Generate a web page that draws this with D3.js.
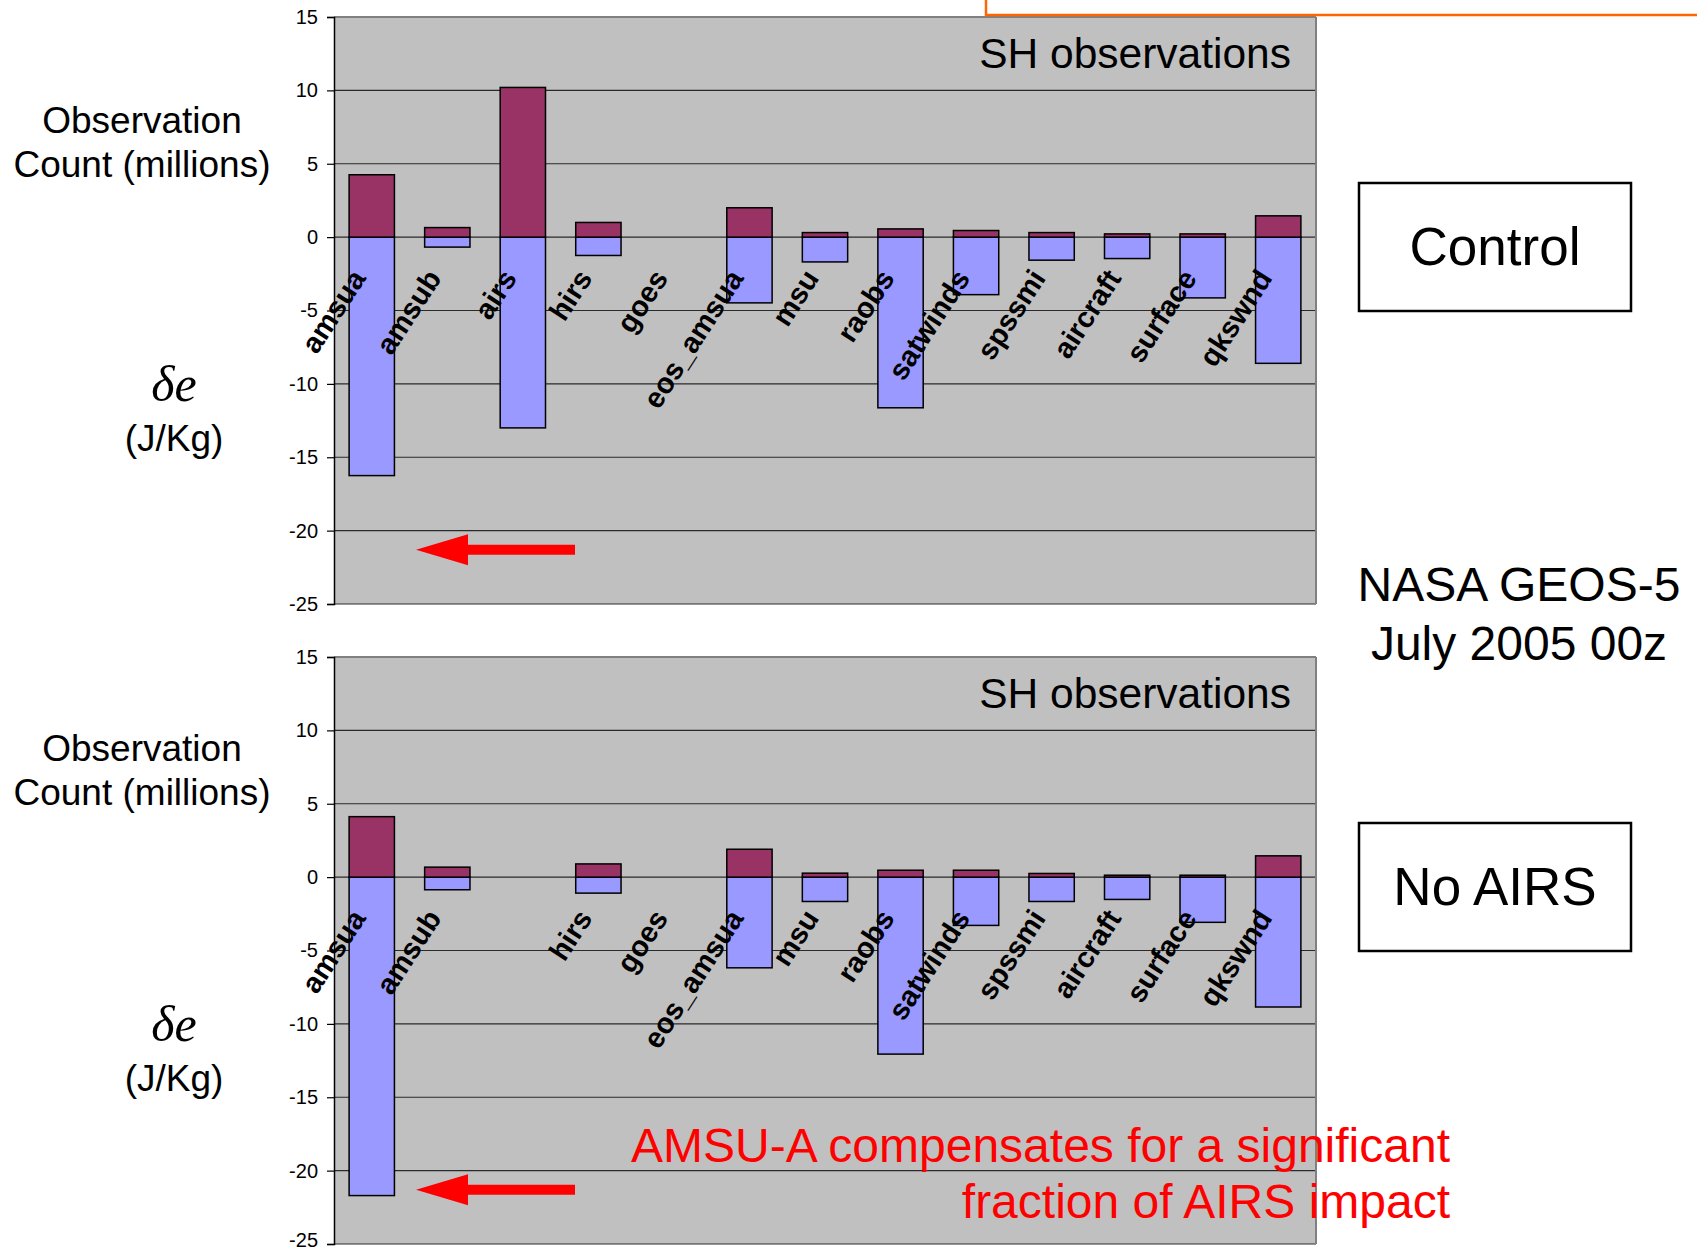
<!DOCTYPE html>
<html>
<head>
<meta charset="utf-8">
<script src="https://cdn.jsdelivr.net/npm/d3@7/dist/d3.min.js"></script>
<style>
  body { margin: 0; background: #fff; }
  svg { display: block; }
  text { font-family: "Liberation Sans", Arial, sans-serif; }
</style>
</head>
<body>
<svg width="1697" height="1252"></svg>
<script>
// observation types (x categories)
const categories = ['amsua', 'amsub', 'airs', 'hirs', 'goes', 'eos_amsua', 'msu',
  'raobs', 'satwinds', 'spssmi', 'aircraft', 'surface', 'qkswnd'];
const noAirsLabels = ['amsua', 'amsub', '', 'hirs', 'goes', 'eos_amsua', 'msu',
  'raobs', 'satwinds', 'spssmi', 'aircraft', 'surface', 'qkswnd'];

// Control run: observation count (millions) and impact de (J/Kg)
const controlCount = [4.25, 0.65, 10.2, 1.0, 0, 2.0, 0.31, 0.56, 0.45, 0.31, 0.22, 0.22, 1.45];
const controlImpact = [-16.25, -0.68, -13.0, -1.25, 0, -4.48, -1.69, -11.63, -3.92, -1.57, -1.46, -4.14, -8.6];

// No AIRS run
const noAirsCount = [4.12, 0.68, 0, 0.9, 0, 1.9, 0.27, 0.47, 0.47, 0.25, 0.13, 0.13, 1.45];
const noAirsImpact = [-21.7, -0.86, 0, -1.09, 0, -6.18, -1.66, -12.06, -3.29, -1.66, -1.52, -3.08, -8.85];

const yTicks = [15, 10, 5, 0, -5, -10, -15, -20, -25];

const svg = d3.select('svg');
const plotLeft = 334, plotRight = 1316, plotH = 587;

const x = d3.scaleBand()
  .domain(categories)
  .range([plotLeft, plotRight])
  .paddingInner(0.4)
  .paddingOuter(0.2);

function drawPanel(top, count, impact, labels, boxText, leftShift, lastDy) {
  const y = d3.scaleLinear().domain([-25, 15]).range([top + plotH, top]);
  const g = svg.append('g');

  // plot area
  g.append('rect')
    .attr('x', plotLeft).attr('y', top)
    .attr('width', plotRight - plotLeft).attr('height', plotH)
    .attr('fill', '#c0c0c0');

  // gridlines
  g.selectAll('.grid')
    .data(yTicks)
    .enter().append('line')
    .attr('x1', plotLeft).attr('x2', plotRight)
    .attr('y1', d => y(d)).attr('y2', d => y(d))
    .attr('stroke', d => d === 15 ? '#808080' : '#2a2a2a')
    .attr('stroke-width', d => d === 15 ? 2 : 1.2);

  g.append('line')
    .attr('x1', plotRight).attr('x2', plotRight)
    .attr('y1', top).attr('y2', top + plotH)
    .attr('stroke', '#808080').attr('stroke-width', 2);

  const rows = categories.map((c, i) => ({ c: c, count: count[i], impact: impact[i] }));

  // impact bars (blue, below zero)
  g.selectAll('.imp')
    .data(rows.filter(d => d.impact !== 0))
    .enter().append('rect')
    .attr('x', d => x(d.c))
    .attr('y', y(0))
    .attr('width', x.bandwidth())
    .attr('height', d => y(d.impact) - y(0))
    .attr('fill', '#9999ff')
    .attr('stroke', '#000').attr('stroke-width', 1.5);

  // count bars (purple, above zero)
  g.selectAll('.cnt')
    .data(rows.filter(d => d.count !== 0))
    .enter().append('rect')
    .attr('x', d => x(d.c))
    .attr('y', d => y(d.count))
    .attr('width', x.bandwidth())
    .attr('height', d => y(0) - y(d.count))
    .attr('fill', '#993366')
    .attr('stroke', '#000').attr('stroke-width', 1.5);

  // y axis
  const axis = g.append('g')
    .attr('transform', 'translate(' + plotLeft + ',0)')
    .call(d3.axisLeft(y).tickValues(yTicks).tickFormat(d => String(d)).tickSize(7).tickPadding(9));
  axis.select('.domain').attr('stroke', '#000').attr('stroke-width', 1.5);
  axis.selectAll('.tick line').attr('stroke', '#000').attr('stroke-width', 1.2);
  axis.selectAll('.tick text')
    .attr('fill', '#000')
    .attr('dy', d => d === -25 ? lastDy : '0.32em')
    .style('font-size', '20px')
    .style('font-family', '"Liberation Sans", Arial, sans-serif');

  // rotated category labels
  g.selectAll('.cat')
    .data(labels)
    .enter().append('text')
    .attr('transform', (d, i) => {
      const cx = x(categories[i]) + x.bandwidth() / 2 - 5;
      return 'translate(' + cx + ',' + (y(0) + 41) + ') rotate(-57)';
    })
    .attr('text-anchor', 'end')
    .style('font-size', '29px')
    .style('font-weight', 'bold')
    .attr('fill', '#000')
    .text(d => d);

  g.append('text')
    .attr('x', 1291).attr('y', top + 51)
    .attr('text-anchor', 'end')
    .style('font-size', '42.5px')
    .text('SH observations');

  // red arrow pointing at amsua
  const ay = y(-21.3);
  g.append('path')
    .attr('d', 'M416,' + ay + ' L468,' + (ay - 15.5) + ' L468,' + (ay - 5) + ' L575,' + (ay - 5) +
      ' L575,' + (ay + 5) + ' L468,' + (ay + 5) + ' L468,' + (ay + 15.5) + ' Z')
    .attr('fill', '#ff0000');

  // left side labels
  const lg = g.append('g').attr('text-anchor', 'middle');
  lg.append('text').attr('x', 142).attr('y', top + 116 - leftShift).style('font-size', '37px').text('Observation');
  lg.append('text').attr('x', 142).attr('y', top + 160 - leftShift).style('font-size', '37px').text('Count (millions)');
  lg.append('text').attr('x', 174).attr('y', top + 384)
    .style('font-family', '"Liberation Serif", "Times New Roman", serif')
    .style('font-style', 'italic').style('font-size', '50px').text('δe');
  lg.append('text').attr('x', 174).attr('y', top + 434).style('font-size', '37px').text('(J/Kg)');

  // right side run label box
  svg.append('rect')
    .attr('x', 1359).attr('y', top + 166)
    .attr('width', 272).attr('height', 128)
    .attr('fill', '#fff').attr('stroke', '#000').attr('stroke-width', 2.5);
  svg.append('text')
    .attr('x', 1495).attr('y', top + 248)
    .attr('text-anchor', 'middle')
    .style('font-size', '53px')
    .text(boxText);

  return y;
}

drawPanel(17, controlCount, controlImpact, categories, 'Control', 0, '0.32em');
drawPanel(657, noAirsCount, noAirsImpact, noAirsLabels, 'No AIRS', 12, '0.1em');

// orange box cut at top of the page
svg.append('rect')
  .attr('x', 986).attr('y', -20)
  .attr('width', 760).attr('height', 35)
  .attr('fill', 'none').attr('stroke', '#ff6600').attr('stroke-width', 2.5);

// model and date
svg.append('text').attr('x', 1519).attr('y', 601)
  .attr('text-anchor', 'middle').style('font-size', '48px').text('NASA GEOS-5');
svg.append('text').attr('x', 1519).attr('y', 660)
  .attr('text-anchor', 'middle').style('font-size', '48px').text('July 2005 00z');

// red note on the lower chart
const note = svg.append('g').attr('text-anchor', 'end').attr('fill', '#ff0000');
note.append('text').attr('x', 1450).attr('y', 1162).style('font-size', '48px')
  .text('AMSU-A compensates for a significant');
note.append('text').attr('x', 1450).attr('y', 1218).style('font-size', '48px')
  .text('fraction of AIRS impact');
</script>
</body>
</html>
